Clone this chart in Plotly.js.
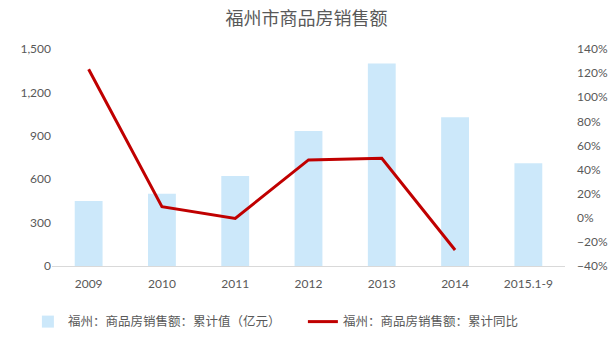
<!DOCTYPE html>
<html>
<head>
<meta charset="utf-8">
<script src="https://cdn.plot.ly/plotly-3.0.1.min.js"></script>
<style>html,body{margin:0;padding:0;background:#fff;}#chart{width:613px;height:338px;}</style>
</head>
<body>
<div id="chart"></div>
<script>
var categories = ["2009", "2010", "2011", "2012", "2013", "2014", "2015.1-9"];
var salesValue = [450, 500, 622, 933, 1400, 1028, 710];
var yoyGrowth = [123.2, 9.2, -0.5, 48, 49.4, -26.7, null];
var seriesNames = ["福州：商品房销售额：累计值（亿元）", "福州：商品房销售额：累计同比"];
var titleText = "福州市商品房销售额";

var fontFam = "Lato, 'Noto Sans CJK SC', sans-serif";
var gray = "#595959";

var traces = [
  {
    type: "bar", x: categories, y: salesValue, name: seriesNames[0],
    marker: {color: "#CCE8FA"}, yaxis: "y", hoverinfo: "skip"
  },
  {
    type: "scatter", mode: "lines", x: categories, y: yoyGrowth, name: seriesNames[1],
    line: {color: "#C00000", width: 3}, yaxis: "y2", connectgaps: false
  }
];

var layout = {
  width: 613, height: 338,
  margin: {l: 52, r: 48, t: 49, b: 72, autoexpand: false},
  paper_bgcolor: "#fff", plot_bgcolor: "#fff",
  font: {family: fontFam, color: gray, size: 12},
  title: {text: titleText, x: 0.5, xanchor: "center", y: 0.945, yanchor: "middle",
          font: {family: "'Noto Sans CJK SC', sans-serif", size: 18, color: gray}},
  bargap: 0.62,
  showlegend: true,
  legend: {orientation: "h", x: -0.047, xanchor: "left", y: -0.258, yanchor: "middle",
           font: {family: "'Noto Sans CJK SC', sans-serif", size: 12.5, color: gray},
           entrywidth: 230, entrywidthmode: "pixels", traceorder: "normal"},
  xaxis: {type: "category", showgrid: false, zeroline: false, showline: true,
          linecolor: "#D9D9D9", linewidth: 1, ticks: "", ticklabelstandoff: 7,
          tickfont: {size: 12, color: gray}},
  yaxis: {range: [0, 1500], dtick: 300, tick0: 0, tickformat: ",d", showgrid: false,
          zeroline: false, showline: false, ticks: "", tickfont: {size: 12, color: gray}},
  yaxis2: {range: [-40, 140], dtick: 20, tick0: 0, ticksuffix: "%", overlaying: "y",
           side: "right", showgrid: false, zeroline: false, showline: false, ticks: "",
           ticklabelstandoff: 11, tickfont: {size: 12, color: gray}}
};

Plotly.newPlot("chart", traces, layout, {displayModeBar: false, staticPlot: true});
</script>
</body>
</html>
